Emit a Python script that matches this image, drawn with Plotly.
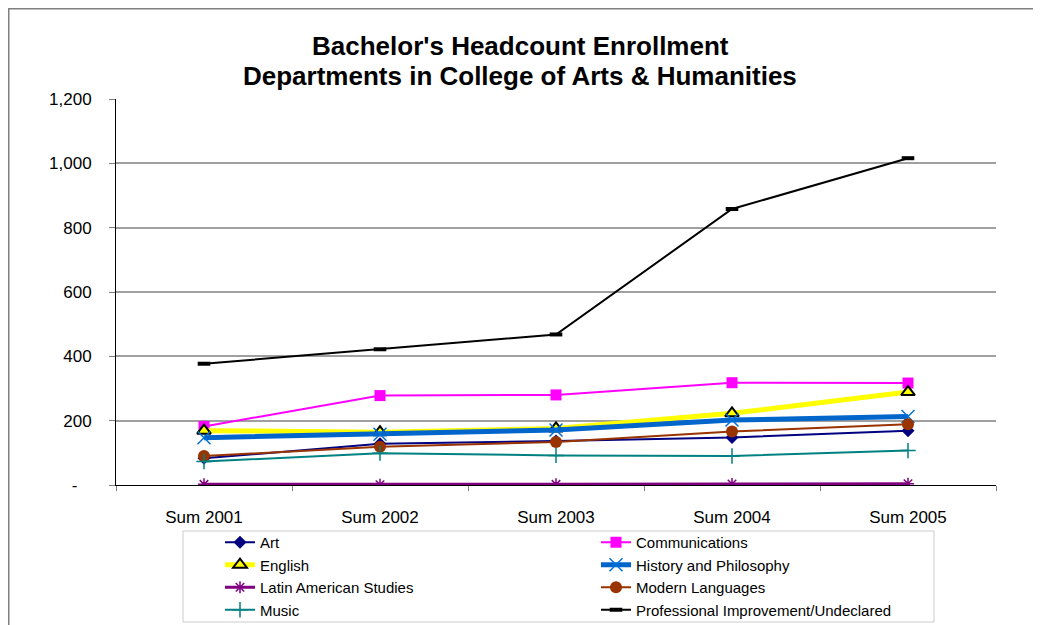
import plotly.graph_objects as go

categories = ["Sum 2001", "Sum 2002", "Sum 2003", "Sum 2004", "Sum 2005"]

art = [83, 128, 137, 148, 169]
communications = [182, 278, 280, 318, 317]
english = [169, 164, 176, 223, 289]
history = [147, 158, 171, 202, 213]
latin_american = [2, 1, 2, 3, 4]
modern_languages = [90, 119, 134, 166, 189]
music = [73, 99, 92, 90, 107]
professional = [377, 422, 468, 858, 1016]

y_tickvals = [0, 200, 400, 600, 800, 1000, 1200]
y_ticktext = ["-\u00a0\u00a0\u00a0", "200", "400", "600", "800", "1,000", "1,200"]

title_line1 = "Bachelor's Headcount Enrollment"
title_line2 = "Departments in College of Arts & Humanities"

series = [
    dict(name="Art", y=art, color="#000080", width=2,
         marker=dict(symbol="diamond", size=10, color="#000080")),
    dict(name="Communications", y=communications, color="#FF00FF", width=2,
         marker=dict(symbol="square", size=11, color="#FF00FF")),
    dict(name="English", y=english, color="#FFFF00", width=5,
         marker=dict(symbol="triangle-up", size=12, color="#FFFF00",
                     line=dict(color="#000000", width=2))),
    dict(name="History and Philosophy", y=history, color="#0066CC", width=5,
         marker=dict(symbol="x-thin", size=13, color="#0066CC",
                     line=dict(color="#0070D8", width=1.5))),
    dict(name="Latin American Studies", y=latin_american, color="#800080", width=3,
         marker=dict(symbol="asterisk", size=10, color="#800080",
                     line=dict(color="#800080", width=1.5))),
    dict(name="Modern Languages", y=modern_languages, color="#993300", width=2,
         marker=dict(symbol="circle", size=12, color="#993300")),
    dict(name="Music", y=music, color="#008080", width=2,
         marker=dict(symbol="cross-thin", size=11, color="#008080",
                     line=dict(color="#008080", width=1.5))),
    dict(name="Professional Improvement/Undeclared", y=professional, color="#000000", width=2,
         marker=dict(symbol="line-ew", size=9, color="#000000",
                     line=dict(color="#000000", width=4))),
]

fig = go.Figure()
for s in series:
    fig.add_trace(go.Scatter(
        x=categories, y=s["y"], name=s["name"], mode="lines+markers",
        line=dict(color=s["color"], width=s["width"]),
        marker=s["marker"],
    ))

# plot area in reference pixels: x 116..996, y 99..485 (page has 8px body margin)
PX0, PX1, PY0, PY1 = 116, 996, 99, 485


def px(x):
    return (x - PX0) / (PX1 - PX0)


def py(y):
    return (PY1 - y) / (PY1 - PY0)


fig.update_layout(
    width=1033, height=617,
    paper_bgcolor="white", plot_bgcolor="white",
    font=dict(family="Liberation Sans, Arial, sans-serif", color="#000000", size=17),
    margin=dict(l=108, r=45, t=91, b=140, autoexpand=False),
    showlegend=True,
    legend=dict(
        orientation="h",
        x=px(220), xanchor="left",
        y=py(526), yanchor="top",
        entrywidth=331, entrywidthmode="pixels",
        borderwidth=0, bgcolor="rgba(0,0,0,0)",
        font=dict(size=15),
        traceorder="normal",
    ),
    annotations=[
        dict(text="<b>" + title_line1 + "</b>", xref="paper", yref="paper",
             x=px(520), y=py(46), xanchor="center", yanchor="middle",
             showarrow=False, font=dict(size=26)),
        dict(text="<b>" + title_line2 + "</b>", xref="paper", yref="paper",
             x=px(520), y=py(76), xanchor="center", yanchor="middle",
             showarrow=False, font=dict(size=26)),
    ],
    shapes=[
        dict(type="rect", xref="paper", yref="paper",
             x0=px(8.5), x1=px(1080), y0=py(680), y1=py(8.5),
             line=dict(color="#808080", width=2), fillcolor="rgba(0,0,0,0)",
             layer="below"),
        dict(type="rect", xref="paper", yref="paper",
             x0=px(183), x1=px(934), y0=py(622), y1=py(531),
             line=dict(color="#CCCCCC", width=1), fillcolor="rgba(0,0,0,0)",
             layer="below"),
    ],
)

fig.update_xaxes(
    type="category",
    showline=True, linecolor="#000000", linewidth=1,
    showgrid=False,
    ticks="outside", tickson="boundaries", ticklen=5, tickcolor="#808080",
    ticklabelstandoff=17,
    tickfont=dict(size=17),
    range=[-0.5, 4.5],
)
fig.update_yaxes(
    range=[0, 1200],
    tickvals=y_tickvals, ticktext=y_ticktext,
    showline=True, linecolor="#000000", linewidth=1,
    showgrid=True, gridcolor="#A0A0A0", gridwidth=1.5,
    ticks="outside", ticklen=6, tickcolor="#808080",
    ticklabelstandoff=14,
    tickfont=dict(size=17),
    zeroline=False,
)

fig.write_html("out.html")
